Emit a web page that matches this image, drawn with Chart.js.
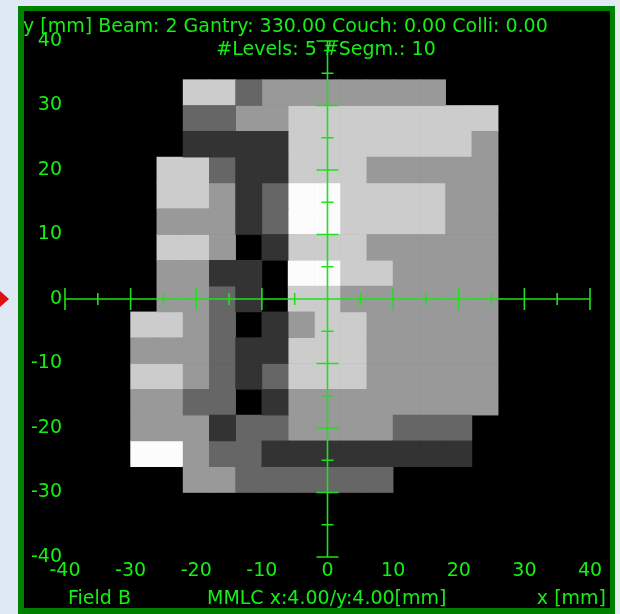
<!DOCTYPE html>
<html>
<head>
<meta charset="utf-8">
<script src="https://cdn.jsdelivr.net/npm/chart.js@4"></script>
<style>
  html, body { margin: 0; padding: 0; background: #dfe9f5; }
  #wrap { width: 620px; height: 614px; }
</style>
</head>
<body>
<div id="wrap"><canvas id="c" width="620" height="614"></canvas></div>
<script>
// ---- data ----
const xCenters = [-28, -24, -20, -16, -12, -8, -4, 0, 4, 8, 12, 16, 20, 24];
const yCenters = [32, 28, 24, 20, 16, 12, 8, 4, 0, -4, -8, -12, -16, -20, -24, -28];
const cellSize = 4; // MMLC x:4.00 / y:4.00 mm
// intensity level per cell (0 = no dose ... 5 = max), one row per yCenter
const levelRows = [
  [0,0,4,4,2,3,3,3,3,3,3,3,0,0],
  [0,0,2,2,3,3,4,4,4,4,4,4,4,4],
  [0,0,1,1,1,1,4,4,4,4,4,4,4,3],
  [0,4,4,2,1,1,4,4,4,3,3,3,3,3],
  [0,4,4,3,1,2,5,5,4,4,4,4,3,3],
  [0,3,3,3,1,2,5,5,4,4,4,4,3,3],
  [0,4,4,3,0,1,4,4,4,3,3,3,3,3],
  [0,3,3,1,1,0,5,5,4,4,3,3,3,3],
  [0,3,3,2,1,0,4,4,3,3,3,3,3,3],
  [4,4,3,2,0,1,3,4,4,3,3,3,3,3],
  [3,3,3,2,1,1,4,4,4,3,3,3,3,3],
  [4,4,3,2,1,2,4,4,4,3,3,3,3,3],
  [3,3,2,2,0,1,3,3,3,3,3,3,3,3],
  [3,3,3,1,2,2,3,3,3,3,2,2,2,0],
  [5,5,3,2,2,1,1,1,1,1,1,1,1,0],
  [0,0,3,3,2,2,2,2,2,2,0,0,0,0]
];
const levels = [1, 2, 3, 4, 5];
const levelColors = ['#000000', '#333333', '#666666', '#999999', '#cccccc', '#fcfcfc'];
const axisTicks = [-40, -30, -20, -10, 0, 10, 20, 30, 40];
const crossTicks = [-40,-35,-30,-25,-20,-15,-10,-5,5,10,15,20,25,30,35,40];
const titleLine1 = 'y [mm] Beam: 2 Gantry: 330.00 Couch: 0.00 Colli: 0.00';
const titleLine2 = '#Levels: 5 #Segm.: 10';
const footLeft = 'Field B';
const footMid = 'MMLC x:4.00/y:4.00[mm]';
const footRight = 'x [mm]';

// ---- build datasets ----
const datasets = levels.map(L => {
  const pts = [];
  levelRows.forEach((row, r) => {
    row.forEach((v, c) => {
      if (v === L) pts.push({ y: yCenters[r], x: [xCenters[c] - cellSize / 2, xCenters[c] + cellSize / 2] });
    });
  });
  return {
    label: 'Level ' + L,
    data: pts,
    backgroundColor: levelColors[L],
    borderWidth: 0,
    grouped: false,
    barPercentage: 1,
    categoryPercentage: 1
  };
});

const FONT = '"DejaVu Sans", Verdana, sans-serif';
const FSIZE = 19;
const TXT = '#14f014';
const LINE = '#1ee01e';
const fmt = v => String(v);

const framePlugin = {
  id: 'frame',
  beforeDraw(chart) {
    const ctx = chart.ctx;
    ctx.save();
    ctx.fillStyle = '#dfe9f5';
    ctx.fillRect(0, 0, 620, 614);
    ctx.fillStyle = '#e8edf2';
    ctx.fillRect(615, 0, 5, 614);
    ctx.fillStyle = '#008000';
    ctx.fillRect(18, 6, 597, 608);
    ctx.fillStyle = '#000000';
    ctx.fillRect(24, 11, 586, 597);
    // red marker at the zero line
    const y0 = chart.scales.y.getPixelForValue(0);
    ctx.fillStyle = '#e01010';
    ctx.beginPath();
    ctx.moveTo(0, y0 - 8);
    ctx.lineTo(9, y0);
    ctx.lineTo(0, y0 + 8);
    ctx.closePath();
    ctx.fill();
    ctx.restore();
  }
};

const crossPlugin = {
  id: 'cross',
  afterDatasetsDraw(chart) {
    const ctx = chart.ctx;
    const xs = chart.scales.x, ys = chart.scales.y;
    const x0 = xs.getPixelForValue(0), y0 = ys.getPixelForValue(0);
    ctx.save();
    ctx.strokeStyle = LINE;
    ctx.lineWidth = 1.6;
    ctx.beginPath();
    ctx.moveTo(xs.getPixelForValue(-40), y0);
    ctx.lineTo(xs.getPixelForValue(40), y0);
    ctx.moveTo(x0, ys.getPixelForValue(40));
    ctx.lineTo(x0, ys.getPixelForValue(-40));
    crossTicks.forEach(t => {
      const len = (t % 10 === 0) ? 11 : 6;
      const px = xs.getPixelForValue(t);
      ctx.moveTo(px, y0 - len); ctx.lineTo(px, y0 + len);
      const py = ys.getPixelForValue(t);
      ctx.moveTo(x0 - len, py); ctx.lineTo(x0 + len, py);
    });
    ctx.stroke();
    ctx.restore();
  },
  afterDraw(chart) {
    const ctx = chart.ctx;
    ctx.save();
    ctx.fillStyle = TXT;
    ctx.font = FSIZE + 'px ' + FONT;
    ctx.textBaseline = 'alphabetic';
    ctx.textAlign = 'left';
    ctx.fillText(titleLine1, 23, 32);
    ctx.textAlign = 'center';
    ctx.fillText(titleLine2, 326, 55);
    ctx.textAlign = 'left';
    ctx.fillText(footLeft, 68, 604);
    ctx.fillText(footMid, 207, 604);
    ctx.textAlign = 'right';
    ctx.fillText(footRight, 606, 604);
    ctx.restore();
  }
};

new Chart(document.getElementById('c'), {
  type: 'bar',
  data: { datasets },
  options: {
    indexAxis: 'y',
    responsive: false,
    animation: false,
    events: [],
    layout: { padding: { top: 41, right: 30, left: 0, bottom: 0 } },
    plugins: { legend: { display: false }, tooltip: { enabled: false }, title: { display: false } },
    scales: {
      x: {
        type: 'linear', min: -40, max: 40, offset: false,
        afterBuildTicks: s => { s.ticks = axisTicks.map(v => ({ value: v })); },
        afterFit: s => { s.height = 57; },
        grid: { display: false, drawTicks: false },
        border: { display: false },
        ticks: { color: TXT, font: { family: FONT, size: FSIZE }, padding: 3, maxRotation: 0, autoSkip: false, callback: v => fmt(v) }
      },
      y: {
        type: 'linear', min: -40, max: 40, offset: false,
        afterBuildTicks: s => { s.ticks = axisTicks.map(v => ({ value: v })); },
        afterFit: s => { s.width = 65; },
        grid: { display: false, drawTicks: false },
        border: { display: false },
        ticks: { color: TXT, font: { family: FONT, size: FSIZE }, padding: 3, autoSkip: false, callback: v => fmt(v) }
      }
    }
  },
  plugins: [framePlugin, crossPlugin]
});
</script>
</body>
</html>
